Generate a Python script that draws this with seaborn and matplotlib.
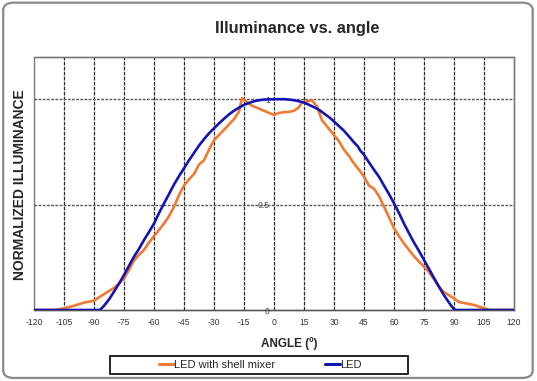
import matplotlib
matplotlib.use("Agg")
import matplotlib.pyplot as plt
import seaborn as sns
import pandas as pd
from matplotlib.patches import FancyBboxPatch, Rectangle

# ---- data ----
led_angle = [-120, -87, -85, -82.5, -80, -77.5, -75, -72.5, -70, -67.5, -65, -62.5, -60,
             -57.5, -55, -52.5, -50, -47.5, -45, -42.5, -40, -37.5, -35, -32.5, -30,
             -27.5, -25, -22.5, -20, -17.5, -15, -12.5, -10, -7.5, -5, -2.5, 0, 2.5, 5,
             7.5, 10, 12.5, 15, 17.5, 20, 22.5, 25, 27.5, 30, 32.5, 35, 37.5, 40, 42, 43,
             45, 47.5, 50, 52.5, 55, 57.5, 60, 62.5, 65, 67.5, 70, 72.5, 75, 77.5, 80,
             82.5, 85, 87.5, 90, 91, 120]
led_value = [0, 0, 0.02, 0.05, 0.087, 0.125, 0.166, 0.21, 0.253, 0.29, 0.332, 0.37, 0.41,
             0.46, 0.505, 0.55, 0.595, 0.635, 0.672, 0.71, 0.745, 0.78, 0.81, 0.838, 0.862,
             0.885, 0.907, 0.928, 0.945, 0.96, 0.973, 0.982, 0.99, 0.995, 0.998, 0.999, 1.0,
             1.0, 1.0, 0.998, 0.995, 0.99, 0.984, 0.973, 0.962, 0.95, 0.932, 0.915, 0.894,
             0.872, 0.85, 0.823, 0.795, 0.775, 0.758, 0.736, 0.70, 0.665, 0.632, 0.59, 0.55,
             0.506, 0.46, 0.41, 0.364, 0.32, 0.28, 0.237, 0.195, 0.152, 0.11, 0.07, 0.035,
             0.003, 0, 0]

mix_angle = [-120, -110, -105, -100, -95, -90, -87.5, -85, -82.5, -80, -77.5, -75, -72.5,
             -70, -67.5, -65, -62.5, -60, -57.5, -55, -52.5, -50, -47.5, -45, -42.5, -40,
             -37.5, -35, -32.5, -30, -27.5, -25, -22.5, -20, -17.5, -16, -14, -12, -10,
             -7.5, -5, -2.5, 0, 2.5, 5, 7.5, 10, 12.5, 14, 17, 19, 21.5, 24, 27, 30, 32.5,
             35, 37.5, 40, 42.5, 45, 47.5, 50, 52.5, 55, 57.5, 60, 62.5, 65, 67.5, 70,
             72.5, 75, 77.5, 80, 82.5, 85, 87.5, 90, 92.5, 95, 100, 105, 108, 120]
mix_value = [0, 0, 0.008, 0.02, 0.035, 0.044, 0.06, 0.075, 0.09, 0.105, 0.125, 0.15, 0.19,
             0.235, 0.262, 0.285, 0.32, 0.35, 0.38, 0.41, 0.445, 0.49, 0.545, 0.59, 0.62,
             0.645, 0.69, 0.71, 0.76, 0.805, 0.83, 0.855, 0.88, 0.905, 0.94, 1.005, 0.99,
             0.975, 0.965, 0.955, 0.945, 0.935, 0.925, 0.935, 0.938, 0.94, 0.945, 0.962,
             0.985, 0.99, 0.995, 0.965, 0.90, 0.865, 0.83, 0.80, 0.76, 0.73, 0.695, 0.665,
             0.633, 0.59, 0.575, 0.54, 0.49, 0.44, 0.388, 0.35, 0.315, 0.285, 0.255, 0.23,
             0.206, 0.18, 0.145, 0.11, 0.085, 0.07, 0.055, 0.038, 0.033, 0.024, 0.008, 0, 0]

x_ticks = list(range(-120, 121, 15))
y_ticks = [0, 0.5, 1]
y_tick_labels = ["0", "0.5", "1"]

series_names = ["LED with shell mixer", "LED"]
series_colors = ["#F07A32", "#1414B4"]

# ---- figure ----
sns.set_style("white")
plt.rcParams['font.family'] = ['Liberation Sans', 'DejaVu Sans']

fig = plt.figure(figsize=(5.37, 3.81), dpi=100)
fig.patch.set_facecolor("white")
# outer rounded frame
frame = FancyBboxPatch((0.006, 0.008), 0.986, 0.985, transform=fig.transFigure,
                       boxstyle="round,pad=0,rounding_size=0.02", fc="white",
                       ec="#8a8a8a", lw=1.6, zorder=-10)
fig.patches.append(frame)

ax = fig.add_axes([34/537, 1-310/381, 480/537, 253/381])
ax.set_facecolor("none")

df_mix = pd.DataFrame({"angle": mix_angle, "value": mix_value})
df_led = pd.DataFrame({"angle": led_angle, "value": led_value})
sns.lineplot(data=df_mix, x="angle", y="value", ax=ax, color=series_colors[0], lw=1.9,
             estimator=None, sort=False, label=series_names[0], zorder=4)
sns.lineplot(data=df_led, x="angle", y="value", ax=ax, color=series_colors[1], lw=1.9,
             estimator=None, sort=False, label=series_names[1], zorder=5)

ax.set_xlim(-120, 120)
ax.set_ylim(0, 1.2)
ax.set_xticks(x_ticks)
ax.set_xticklabels([str(t) for t in x_ticks])
ax.set_yticks(y_ticks)
ax.set_yticklabels(y_tick_labels)

# grid
ax.grid(False)
for t in x_ticks[1:-1]:
    ax.axvline(t, color="#2a2a2a", lw=0.9, ls=(0, (3, 1)), zorder=1)
for t in [0.5, 1.0]:
    ax.axhline(t, color="#5a5a5a", lw=1.0, ls=(0, (2, 1)), zorder=1)

# spines: value axis crosses at x=0
for s in ["top", "right", "bottom"]:
    ax.spines[s].set_visible(True)
    ax.spines[s].set_color("#7a7a7a")
    ax.spines[s].set_linewidth(1.0)
ax.spines["bottom"].set_color("#555555")
ax.spines["left"].set_position(("data", 0))
ax.spines["left"].set_visible(False)
ax.add_patch(Rectangle((0, 0), 1, 1, transform=ax.transAxes, fill=False,
                       ec="#7a7a7a", lw=1.0, zorder=0, clip_on=False))

ax.tick_params(axis="x", length=0, pad=6, labelsize=6.2, labelcolor="#333333")
ax.tick_params(axis="y", length=0, pad=3, labelsize=6.2, labelcolor="#444444")
for lbl in ax.get_yticklabels():
    lbl.set_zorder(6)

ax.set_xlabel("ANGLE (º)", fontsize=8.5, fontweight="bold")
ax.xaxis.set_label_coords((289-34)/480, -(337-310)/253)
ax.set_ylabel("")
fig.text(20/537, 1-185/381, "NORMALIZED ILLUMINANCE", rotation=90, ha="center",
         va="center", fontsize=10, fontweight="bold")
fig.text(297/537, 1-28/381, "Illuminance vs. angle", ha="center", va="center",
         fontsize=11.8, fontweight="bold")

# legend box drawn as a frame, entries inside
fig.patches.append(Rectangle((110/537, 1-373.5/381), 298/537, 17.5/381,
                             transform=fig.transFigure, fill=False, ec="black", lw=1.2))
ax.get_legend().remove()
handles, labels = ax.get_legend_handles_labels()
leg = fig.legend(handles, labels, loc="center", ncol=2,
                 bbox_to_anchor=(260/537, 1-365/381), frameon=False,
                 fontsize=8, handlelength=1.35, handletextpad=0.0,
                 columnspacing=4.5, borderpad=0.0, borderaxespad=0)
for h in leg.get_lines():
    h.set_linewidth(2.2)

fig.savefig("out.png", dpi=100, facecolor="white")
